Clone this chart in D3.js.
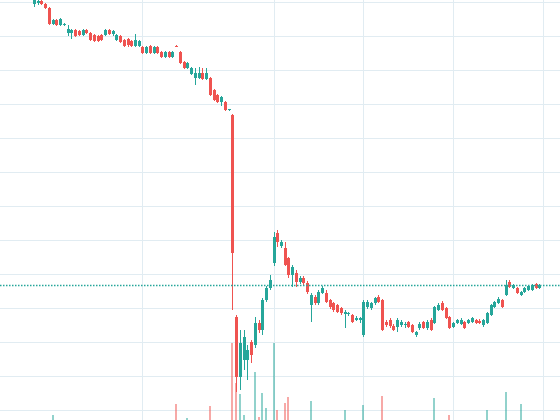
<!DOCTYPE html>
<html><head><meta charset="utf-8">
<script src="https://cdn.jsdelivr.net/npm/d3@7"></script>
<style>html,body{margin:0;padding:0;background:#fff;overflow:hidden}</style>
</head><body><svg id="c" width="560" height="420"></svg>
<script>
const open=[119.7,120.0,120.6,119.7,118.5,113.8,115.0,113.5,113.5,111.2,
111.2,112.1,111.8,110.6,112.1,111.2,110.6,110.3,110.6,110.6,
112.1,110.9,109.1,110.3,109.1,109.4,108.8,107.4,107.4,107.1,
105.3,107.4,105.3,107.1,105.6,104.1,105.6,104.1,107.4,105.6,
102.6,100.9,99.1,97.9,97.9,99.4,97.6,97.9,94.4,92.9,
90.9,90.9,88.4,87.1,27.6,10.0,15.0,15.0,20.3,19.4,
25.9,23.8,32.6,36.2,43.5,52.4,48.5,47.9,45.0,40.0,
40.6,37.9,39.1,37.6,31.2,33.5,31.8,34.7,34.7,32.6,
31.8,31.2,30.3,28.5,28.5,28.2,26.8,26.8,22.4,30.6,
30.3,31.8,33.5,32.6,26.2,26.8,25.0,24.7,25.3,25.3,
26.2,25.3,22.4,24.4,26.2,24.4,26.8,25.9,29.7,31.8,
30.3,27.6,24.7,25.9,25.6,26.2,25.9,26.2,26.8,26.5,
25.3,25.9,28.2,30.6,31.8,32.6,34.1,37.9,36.2,36.2,
34.1,35.0,35.6,35.6,37.4,36.2];
const high=[121.8,121.2,120.9,120.0,118.8,115.3,115.3,115.6,114.1,113.5,
112.4,112.4,112.1,112.4,112.4,111.5,110.9,110.6,110.9,112.4,
112.4,112.1,110.9,110.6,109.4,109.7,109.1,110.9,109.1,107.4,
107.4,107.6,107.4,107.4,105.9,105.9,105.9,105.9,107.5,105.9,
102.9,102.6,101.2,100.9,101.2,100.9,100.9,98.2,94.7,93.2,
92.6,91.2,88.8,87.4,28.2,23.8,23.8,19.4,20.9,27.6,
26.8,33.2,36.8,40.0,52.6,53.2,50.3,49.7,45.3,42.9,
41.5,39.7,39.7,38.2,34.7,34.1,35.6,36.8,35.6,32.9,
32.1,31.5,30.6,29.7,29.1,28.5,27.9,27.6,32.6,32.6,
32.1,33.5,34.1,32.9,26.8,27.4,25.6,27.4,26.8,26.2,
26.5,25.6,23.5,26.2,26.5,26.8,27.4,30.9,31.8,32.4,
30.6,27.9,26.2,27.1,27.4,26.5,27.1,27.6,27.1,27.1,
27.1,29.1,31.5,32.4,33.5,32.9,38.5,38.5,37.4,36.5,
35.3,36.5,37.1,37.4,37.6,37.4];
const low=[118.8,119.4,119.4,118.2,113.5,113.5,113.2,113.2,113.2,110.3,
109.4,110.0,110.3,110.3,110.9,108.8,108.5,108.6,108.8,110.3,
110.6,110.3,108.8,108.2,107.1,107.1,107.1,107.1,107.1,105.0,
105.0,105.0,105.0,105.0,103.8,103.8,103.8,103.8,107.1,102.1,
100.6,100.6,98.8,95.9,97.6,97.4,97.4,92.6,91.2,90.6,
89.7,88.2,88.2,29.7,5.6,6.2,12.1,9.1,14.1,18.5,
22.9,22.4,32.1,35.6,42.6,48.2,47.9,42.6,39.1,36.5,
36.5,37.4,37.1,34.4,26.2,31.2,31.2,34.4,31.8,30.0,
29.1,28.8,28.2,24.4,27.9,25.9,26.5,25.9,21.8,30.0,
29.7,31.2,31.8,23.5,24.7,24.4,23.5,23.2,24.7,24.4,
24.4,22.9,21.8,23.8,24.1,23.8,23.5,25.6,29.4,29.4,
27.1,24.1,24.4,25.6,25.3,24.1,25.6,25.9,25.6,25.6,
24.7,25.6,27.9,30.3,31.5,30.3,33.8,36.2,35.9,34.4,
33.8,34.7,35.3,35.3,35.9,35.9];
const close=[120.9,120.6,119.7,118.5,113.8,115.0,113.5,115.3,113.8,112.4,
112.1,110.3,110.6,112.1,111.2,109.1,108.8,108.8,109.1,112.1,
110.9,111.8,110.6,108.5,107.4,107.6,107.4,109.1,108.8,105.3,
107.1,105.3,107.1,105.3,104.1,105.6,104.1,105.6,107.2,102.4,
100.9,102.4,100.9,99.4,99.4,97.6,99.4,92.9,91.5,90.9,
92.4,88.5,88.7,46.5,10.0,20.0,21.8,17.9,16.5,25.9,
23.8,32.6,36.2,38.5,51.2,49.7,49.7,42.9,40.0,42.4,
37.9,39.1,37.6,35.0,34.1,31.8,35.0,36.2,32.1,30.6,
29.7,29.1,28.8,29.1,28.8,26.2,27.4,27.4,32.1,32.1,
31.8,33.2,32.1,23.8,25.3,25.0,23.8,26.8,26.2,25.6,
24.7,23.2,23.2,25.6,24.4,26.2,23.8,30.6,31.2,29.7,
27.4,24.4,25.9,26.8,26.8,24.4,26.8,27.4,25.9,25.9,
26.8,28.8,31.2,32.1,32.9,30.6,37.1,36.5,37.1,34.7,
35.0,36.2,36.8,37.1,36.2,37.2];
const volume=[4,6,3,5,8,60,3,4,2,5,
6,3,4,2,5,7,3,4,6,2,
3,5,4,6,2,3,5,4,3,6,
2,4,5,3,6,4,2,5,170,7,
4,30,5,3,6,2,4,150,8,5,
6,7,3,780,380,270,60,9,8,490,
40,280,130,6,780,110,5,180,240,7,
4,6,3,8,200,5,4,3,6,2,
5,4,7,110,3,6,2,4,160,5,
3,6,4,250,5,3,7,4,2,6,
3,5,4,6,2,7,3,230,5,4,
6,60,3,5,4,2,6,3,5,4,
7,110,5,4,6,3,290,5,4,6,
170,3,5,4,6,5];
const priceTicks=[0,10,20,30,40,50,60,70,80,90,100,110,120];
const timeTickIndex=[29,64,88,112,136];

const upColor="#26a69a", downColor="#ef5350";
const upVol="rgba(38,166,154,0.5)", downVol="rgba(239,83,80,0.5)";
const gridColor="#e1ecf2";

const svg=d3.select("#c");
const x=d3.scaleLinear().domain([0,136]).range([33.95,543]);
const y=d3.scaleLinear().domain([0,120]).range([411,3]);
const yv=d3.scaleLinear().domain([0,1000]).range([421,321]);
const idx=d3.range(open.length);

const g=svg.append("g").attr("shape-rendering","crispEdges");
// grid
g.selectAll("rect.h").data(priceTicks).join("rect").attr("class","h")
  .attr("x",0).attr("width",560).attr("y",d=>Math.round(y(d))-1).attr("height",1).attr("fill",gridColor);
g.selectAll("rect.v").data(timeTickIndex).join("rect").attr("class","v")
  .attr("y",0).attr("height",420).attr("x",d=>Math.round(x(d))).attr("width",1).attr("fill",gridColor);

// volume
g.selectAll("rect.vol").data(idx).join("rect").attr("class","vol")
  .attr("x",i=>Math.round(x(i))-1).attr("width",2)
  .attr("y",i=>yv(volume[i])).attr("height",i=>yv(0)-yv(volume[i]))
  .attr("fill",i=>close[i]>=open[i]?upVol:downVol);

// wicks
g.selectAll("rect.wick").data(idx).join("rect").attr("class","wick")
  .attr("x",i=>Math.round(x(i))).attr("width",1)
  .attr("y",i=>Math.round(y(high[i])))
  .attr("height",i=>Math.max(1,Math.round(y(low[i]))-Math.round(y(high[i]))))
  .attr("fill",i=>close[i]>=open[i]?upColor:downColor);
// bodies
g.selectAll("rect.body").data(idx).join("rect").attr("class","body")
  .attr("x",i=>Math.round(x(i))-1).attr("width",3)
  .attr("y",i=>Math.round(y(Math.max(open[i],close[i]))))
  .attr("height",i=>Math.max(1,Math.round(y(Math.min(open[i],close[i])))-Math.round(y(Math.max(open[i],close[i])))))
  .attr("fill",i=>close[i]>=open[i]?upColor:downColor);

// last price line
const lastPrice=close[close.length-1];
svg.append("line").attr("x1",0).attr("x2",560)
  .attr("y1",Math.round(y(lastPrice))+0.5).attr("y2",Math.round(y(lastPrice))+0.5)
  .attr("stroke",upColor).attr("stroke-width",1.5).attr("stroke-dasharray","1.5,1.5");
</script></body></html>
